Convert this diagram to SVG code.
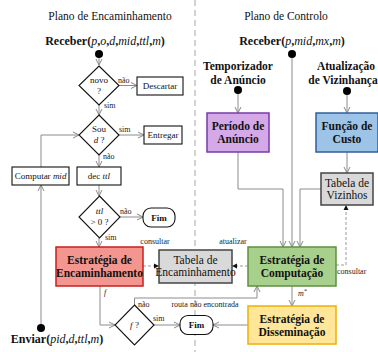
<svg xmlns="http://www.w3.org/2000/svg" width="378" height="352" viewBox="0 0 378 352">
<defs>
<marker id="ar" markerWidth="8" markerHeight="8" refX="7" refY="4" orient="auto" markerUnits="userSpaceOnUse"><path d="M1,1 L7,4 L1,7" fill="none" stroke="#888" stroke-width="1"/></marker>
<marker id="af" markerWidth="6" markerHeight="6" refX="5" refY="3" orient="auto" markerUnits="userSpaceOnUse"><path d="M0,0.5 L5,3 L0,5.5 z" fill="#111"/></marker>
<style>
text{font-family:"Liberation Serif","DejaVu Serif",serif;fill:#111}
.t{font-size:11.5px;text-anchor:middle}
.h{font-size:12px;font-weight:bold;text-anchor:middle}
.b{font-size:11.5px;font-weight:bold;text-anchor:middle}
.s{font-size:9px;text-anchor:middle}
.l{font-size:8px;fill:#222}
.lm{font-size:8px;text-anchor:middle;fill:#222}
.i{font-style:italic;font-weight:normal}
.ln{fill:none;stroke:#8c8c8c;stroke-width:1}
.dl{fill:none;stroke:#9a9a9a;stroke-width:1;stroke-dasharray:3,2}
.fb{fill:#fff;stroke:#111;stroke-width:1.1}
.tb{fill:#d9d9d9;stroke:#444;stroke-width:1.5}
</style>
</defs>
<line x1="195" y1="0" x2="195" y2="352" stroke="#c4c4c4" stroke-width="1.5" stroke-dasharray="6,4"/>
<text class="t" x="110" y="20">Plano de Encaminhamento</text>
<text class="t" x="286" y="20">Plano de Controlo</text>
<text class="h" x="105" y="45">Receber(<tspan class="i">p</tspan>,<tspan class="i">o</tspan>,<tspan class="i">d</tspan>,<tspan class="i">mid</tspan>,<tspan class="i">ttl</tspan>,<tspan class="i">m</tspan>)</text>
<text class="h" x="292" y="45">Receber(<tspan class="i">p</tspan>,<tspan class="i">mid</tspan>,<tspan class="i">mx</tspan>,<tspan class="i">m</tspan>)</text>
<text class="h" x="57" y="343">Enviar(<tspan class="i">pid</tspan>,<tspan class="i">d</tspan>,<tspan class="i">ttl</tspan>,<tspan class="i">m</tspan>)</text>
<g id="connectors">
<line class="ln" x1="99" y1="57" x2="99" y2="65" marker-end="url(#ar)"/>
<line class="ln" x1="119" y1="85.5" x2="137" y2="85.5" marker-end="url(#ar)"/>
<line class="ln" x1="99" y1="104" x2="99" y2="115" marker-end="url(#ar)"/>
<line class="ln" x1="119" y1="135" x2="144" y2="135" marker-end="url(#ar)"/>
<line class="ln" x1="99" y1="155" x2="99" y2="167" marker-end="url(#ar)"/>
<line class="ln" x1="99" y1="185" x2="99" y2="196" marker-end="url(#ar)"/>
<line class="ln" x1="120" y1="217" x2="143" y2="217" marker-end="url(#ar)"/>
<line class="ln" x1="99" y1="238" x2="99" y2="247" marker-end="url(#ar)"/>
<line class="ln" x1="41" y1="326" x2="41" y2="185" marker-end="url(#ar)"/>
<polyline class="ln" points="41,167 41,135 79,135" marker-end="url(#ar)"/>
<polyline class="ln" points="100,286 100,325 115,325" marker-end="url(#ar)"/>
<line class="ln" x1="154" y1="325" x2="180" y2="325" marker-end="url(#ar)"/>
<polyline class="ln" points="134.5,305 134.5,298 257,298 257,286" marker-end="url(#ar)"/>
<line class="ln" x1="248" y1="325" x2="213" y2="325" marker-end="url(#ar)"/>
<line class="ln" x1="292" y1="286" x2="292" y2="306" marker-end="url(#ar)"/>
<line class="ln" x1="292" y1="57" x2="292" y2="247" marker-end="url(#ar)"/>
<line class="ln" x1="238" y1="94" x2="238" y2="113" marker-end="url(#ar)"/>
<polyline class="ln" points="238,152 238,189 283,189 283,247" marker-end="url(#ar)"/>
<line class="ln" x1="347" y1="95" x2="347" y2="113" marker-end="url(#ar)"/>
<line class="ln" x1="347" y1="152" x2="347" y2="173" marker-end="url(#ar)"/>
<polyline class="ln" points="321,189 300,189 300,247" marker-end="url(#ar)"/>
<line class="dl" x1="143" y1="266" x2="159" y2="266" marker-end="url(#af)"/>
<line class="dl" x1="248" y1="266" x2="232" y2="266" marker-end="url(#af)"/>
<polyline class="dl" points="336,265 346,265 346,205" marker-end="url(#af)"/>
</g>
<g id="labels">
<text class="l" x="118" y="83">não</text>
<text class="l" x="104" y="108">sim</text>
<text class="l" x="119" y="132">sim</text>
<text class="l" x="103" y="159">não</text>
<text class="l" x="120" y="214">não</text>
<text class="l" x="105" y="240">sim</text>
<text class="lm" x="155" y="244">consultar</text>
<text class="lm" x="233" y="244">atualizar</text>
<text class="l" x="337" y="274">consultar</text>
<text class="l i" x="104" y="295">f</text>
<text class="l" x="138" y="307">não</text>
<text class="lm" x="205" y="307">routa não encontrada</text>
<text class="l" x="153" y="321">sim</text>
<text class="l i" x="298" y="296">m<tspan font-size="6" dy="-3">*</tspan></text>
</g>
<g id="start1"><circle cx="99" cy="54" r="4" fill="#000"/></g>
<g id="start2"><circle cx="292" cy="54" r="4" fill="#000"/></g>
<g id="start3"><circle cx="238" cy="90" r="4" fill="#000"/><text class="b" x="238" y="70">Temporizador</text><text class="b" x="238" y="84">de Anúncio</text></g>
<g id="start4"><circle cx="347" cy="91" r="4" fill="#000"/><text class="b" x="346" y="70" font-size="11">Atualização</text><text class="b" x="343" y="84" font-size="11">de Vizinhança</text></g>
<g id="end1"><circle cx="41" cy="328" r="4" fill="#000"/></g>
<g id="novo"><path class="fb" d="M99,66 L119,85.5 L99,105 L79,85.5 z"/><text class="s" x="99" y="83">novo</text><text class="s" x="99" y="94">?</text></g>
<g id="descartar"><rect class="fb" x="137" y="77" width="46" height="18"/><text class="s" x="160" y="89">Descartar</text></g>
<g id="sou"><path class="fb" d="M99,115 L119,135 L99,155 L79,135 z"/><text class="s" x="99" y="132">Sou</text><text class="s" x="99" y="143"><tspan class="i">d</tspan> ?</text></g>
<g id="entregar"><rect class="fb" x="144" y="126" width="38" height="18"/><text class="s" x="163" y="138">Entregar</text></g>
<g id="computar"><rect class="fb" x="12" y="167" width="57" height="18"/><text class="s" x="40.5" y="179">Computar <tspan class="i">mid</tspan></text></g>
<g id="dec"><rect class="fb" x="77" y="167" width="44" height="18"/><text class="s" x="99" y="179">dec <tspan class="i">ttl</tspan></text></g>
<g id="ttl"><path class="fb" d="M99.5,196 L120,217 L99.5,238 L79,217 z"/><text class="s i" x="99.5" y="214">ttl</text><text class="s" x="99.5" y="225">&gt; 0 ?</text></g>
<g id="fim1"><rect class="fb" x="143" y="208" width="32" height="19" rx="8"/><text class="s" x="159" y="220.5" font-weight="bold">Fim</text></g>
<g id="encaminhamento"><rect x="56" y="247" width="87" height="39" fill="#f3968f" stroke="#c8201e" stroke-width="1.5"/><text class="b" x="99.5" y="264">Estratégia de</text><text class="b" x="99.5" y="277">Encaminhamento</text></g>
<g id="tabenc"><rect class="tb" x="159" y="250" width="73" height="33"/><text class="t" x="195.5" y="264" font-size="10">Tabela de</text><text class="t" x="195.5" y="276" font-size="10">Encaminhamento</text></g>
<g id="fdiamond"><path class="fb" d="M134.5,305 L154,325 L134.5,345 L115,325 z"/><text class="s" x="134.5" y="328"><tspan class="i">f</tspan> ?</text></g>
<g id="fim2"><rect class="fb" x="180" y="315.5" width="33" height="19" rx="8"/><text class="s" x="196.5" y="328" font-weight="bold">Fim</text></g>
<g id="periodo"><rect x="207" y="113" width="62" height="39" fill="#d5a8e8" stroke="#7a3aa8" stroke-width="1.5"/><text class="b" x="238" y="130">Período de</text><text class="b" x="238" y="143">Anúncio</text></g>
<g id="funcao"><rect x="316" y="113" width="62" height="39" fill="#9dc3e6" stroke="#2f5f9f" stroke-width="1.5"/><text class="b" x="347" y="130">Função de</text><text class="b" x="347" y="143">Custo</text></g>
<g id="tabviz"><rect class="tb" x="321" y="173" width="52" height="32"/><text class="t" x="347" y="187" font-size="9.5">Tabela de</text><text class="t" x="347" y="199" font-size="9.5">Vizinhos</text></g>
<g id="computacao"><rect x="248" y="247" width="88" height="39" fill="#a8d08d" stroke="#5e9040" stroke-width="1.5"/><text class="b" x="292" y="264">Estratégia de</text><text class="b" x="292" y="277">Computação</text></g>
<g id="disseminacao"><rect x="248" y="306" width="88" height="38" fill="#ffe699" stroke="#f0b000" stroke-width="1.5"/><text class="b" x="292" y="323">Estratégia de</text><text class="b" x="292" y="336">Disseminação</text></g>
</svg>
